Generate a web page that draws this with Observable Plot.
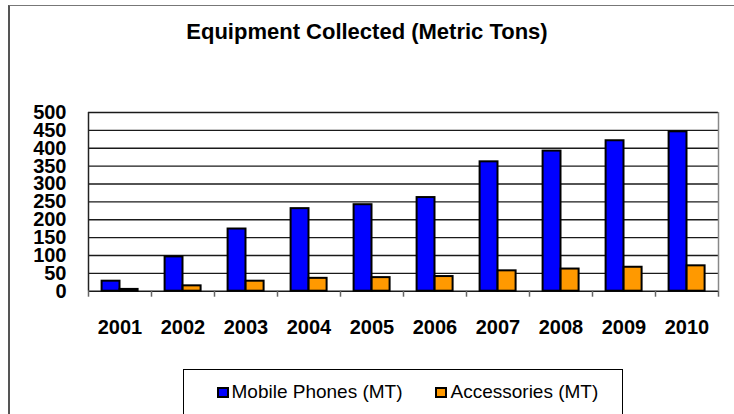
<!DOCTYPE html>
<html>
<head>
<meta charset="utf-8">
<script src="https://cdn.jsdelivr.net/npm/d3@7"></script>
<script src="https://cdn.jsdelivr.net/npm/@observablehq/plot@0.6"></script>
<style>
  html, body { margin: 0; padding: 0; background: #fff; }
  #wrap { position: relative; width: 734px; height: 414px; overflow: hidden; font-family: "Liberation Sans", Arial, sans-serif; }
  #frame { position: absolute; left: 8px; top: 4.5px; width: 800px; height: 500px; border-left: 2px solid #555; border-top: 1px solid #777; box-sizing: border-box; }
  #title { position: absolute; left: 0; top: 21px; width: 734px; text-align: center; font-size: 22px; line-height: 22px; font-weight: bold; color: #000; }
  #legend { position: absolute; left: 183px; top: 368.5px; width: 440px; height: 80px; border: 1.2px solid #000; box-sizing: border-box; background: #fff; }
  .sw { position: absolute; width: 12px; height: 11px; box-sizing: border-box; border: 2px solid #000; top: 17.5px; }
  .lt { position: absolute; top: 12px; font-size: 19px; line-height: 19px; color: #000; white-space: nowrap; }
  #chart { position: absolute; left: 0; top: 0; }
</style>
</head>
<body>
<div id="wrap">
  <div id="frame"></div>
  <div id="chart"></div>
  <div id="title"></div>
  <div id="legend"></div>
</div>
<script>
const title = "Equipment Collected (Metric Tons)";
const years = ["2001", "2002", "2003", "2004", "2005", "2006", "2007", "2008", "2009", "2010"];
const mobile = [28, 96, 174, 231, 242, 262, 362, 392, 421, 446];
const accessories = [5, 15, 28, 36, 38, 41, 57, 62, 67, 71];
const seriesNames = ["Mobile Phones (MT)", "Accessories (MT)"];
const seriesColors = ["#0000FF", "#FF9900"];
const yTicks = [0, 50, 100, 150, 200, 250, 300, 350, 400, 450, 500];

const rows = years.map((y, i) => ({i, year: y, mobile: mobile[i], accessories: accessories[i]}));
const font = "'Liberation Sans', Arial, sans-serif";

const chart = Plot.plot({
  width: 734,
  height: 414,
  marginLeft: 88,
  marginRight: 16,
  marginTop: 112,
  marginBottom: 123.3,
  style: {fontFamily: font, background: "transparent", overflow: "visible"},
  x: {domain: [0, years.length], axis: null},
  y: {domain: [0, 500], axis: null},
  marks: [
    Plot.ruleY(yTicks, {stroke: "#1a1a1a", strokeWidth: 1.4}),
    Plot.ruleX([years.length], {stroke: "#888", strokeWidth: 1.5}),
    Plot.ruleX([0], {stroke: "#222", strokeWidth: 1.5}),
    Plot.rectY(rows, {x1: "i", x2: d => d.i + 1, y1: 0, y2: "mobile", fill: seriesColors[0], stroke: "#000", strokeWidth: 2, insetLeft: 13.6, insetRight: 31.5}),
    Plot.rectY(rows, {x1: "i", x2: d => d.i + 1, y1: 0, y2: "accessories", fill: seriesColors[1], stroke: "#000", strokeWidth: 2, insetLeft: 31.6, insetRight: 13.4}),
    Plot.axisY({ticks: yTicks, tickSize: 0, tickPadding: 22, fontSize: 20, fontWeight: "bold", fill: "#000", tickFormat: d => String(d), label: null}),
    Plot.axisX({ticks: d3.range(0, years.length + 1), tickSize: 6, tickFormat: () => "", stroke: "#666", strokeWidth: 1.5, label: null}),
    Plot.axisX({ticks: d3.range(years.length).map(i => i + 0.5), tickSize: 0, tickPadding: 28.6, fontSize: 20, fontWeight: "bold", fill: "#000", tickFormat: v => years[Math.floor(v)], label: null})
  ]
});
document.getElementById("chart").appendChild(chart);
document.getElementById("title").textContent = title;

const legend = document.getElementById("legend");
const swX = [32.5, 250.5];
const txX = [47.5, 266.5];
seriesNames.forEach((name, k) => {
  const sw = document.createElement("div");
  sw.className = "sw";
  sw.style.left = swX[k] + "px";
  sw.style.background = seriesColors[k];
  legend.appendChild(sw);
  const t = document.createElement("div");
  t.className = "lt";
  t.style.left = txX[k] + "px";
  t.textContent = name;
  legend.appendChild(t);
});
</script>
</body>
</html>
